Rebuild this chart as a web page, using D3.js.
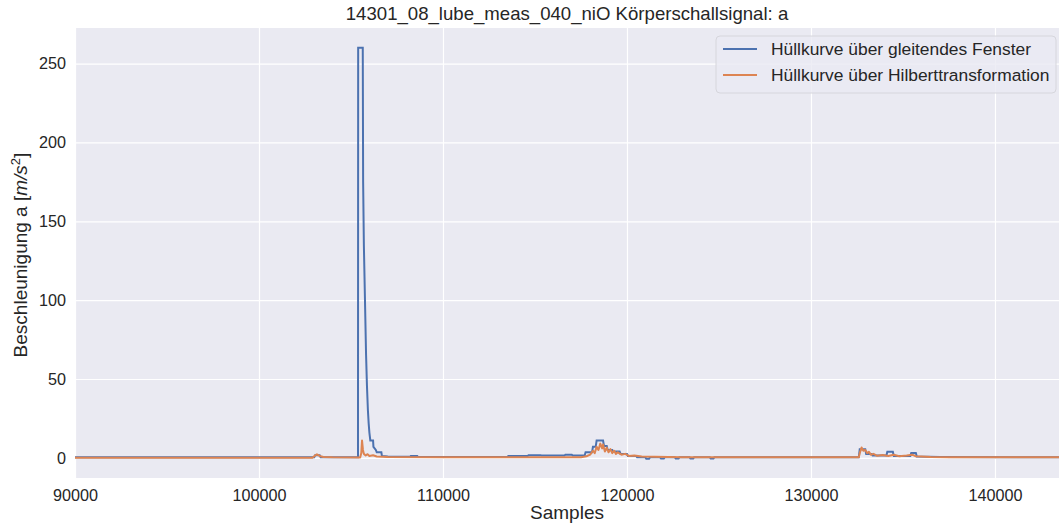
<!DOCTYPE html>
<html>
<head>
<meta charset="utf-8">
<script src="https://cdn.jsdelivr.net/npm/d3@7"></script>
<style>
  html, body { margin: 0; padding: 0; background: #ffffff; }
  svg { display: block; font-family: "Liberation Sans", Arial, sans-serif; }
</style>
</head>
<body>
<svg id="chart" width="1059" height="524"></svg>
<script>
// Envelope of the structure-borne sound signal, moving-window method
const windowSamples = [90000, 103000, 103050, 103300, 103350, 105380, 105390, 105640, 105660, 105700,
  105760, 105820, 105870, 105920, 105960, 106000, 106050, 106200, 106220, 106350,
  106400, 106650, 106680, 107000, 108200, 108250, 108600, 108650, 113500, 113550,
  114600, 114650, 115300, 115350, 116600, 116650, 117000, 117050, 117700, 117750,
  118100, 118150, 118300, 118350, 118700, 118750, 118900, 118950, 119200, 119250,
  119600, 119650, 120000, 120050, 120500, 120550, 121000, 121050, 121200, 121250,
  121800, 121850, 122000, 122050, 122600, 122650, 122800, 122850, 123400, 123450,
  123600, 123650, 124500, 124550, 124700, 124750, 132600, 132650, 132950, 133000,
  133300, 133350, 134100, 134150, 134450, 134500, 135400, 135450, 135700, 135750,
  137000, 143600];
const windowValues = [0.3, 0.3, 1.6, 1.6, 0.4, 0.4, 260, 260, 175, 135,
  100, 65, 45, 30, 22, 16, 11, 11, 7, 5,
  3.5, 3.5, 1.2, 0.8, 0.6, 1.2, 1.2, 0.5, 0.5, 1.2,
  1.2, 1.7, 1.7, 1.4, 1.4, 2.0, 2.0, 1.5, 1.5, 3.5,
  3.5, 7.0, 7.0, 11, 11, 7.5, 7.5, 5.0, 5.0, 4.0,
  4.0, 2.5, 2.5, 1.2, 1.2, 0.3, 0.3, -0.6, -0.6, 0.3,
  0.3, -0.5, -0.5, 0.3, 0.3, -0.5, -0.5, 0.3, 0.3, -0.4,
  -0.4, 0.3, 0.3, -0.4, -0.4, 0.3, 0.3, 5.5, 5.5, 2.5,
  2.5, 1.5, 1.5, 3.8, 3.8, 1.2, 1.2, 3.0, 3.0, 0.8,
  0.5, 0.3];

// Envelope from the Hilbert transform
const hilbertSamples = [90000, 102900, 103050, 103150, 103300, 103500, 104000, 105500, 105560, 105600,
  105650, 105700, 105800, 105900, 106000, 106200, 106400, 107000, 110000, 113500,
  117500, 117800, 118000, 118150, 118250, 118350, 118450, 118550, 118650, 118700,
  118800, 118900, 119000, 119100, 119200, 119300, 119400, 119500, 119700, 119900,
  120100, 120400, 120800, 121500, 123000, 125000, 132600, 132650, 132750, 132850,
  132950, 133050, 133150, 133250, 133400, 133600, 133900, 134200, 134500, 134800,
  135200, 135500, 135700, 136000, 136500, 137500, 143600];
const hilbertValues = [0, 0, 1.5, 2.2, 1.2, 0.5, 0.3, 0.2, 3.0, 11,
  5.0, 2.5, 1.5, 2.3, 1.2, 1.6, 0.8, 0.5, 0.3, 0.3,
  0.4, 1.0, 2.0, 4.5, 3.0, 7.0, 5.0, 9.0, 6.0, 8.5,
  4.0, 6.5, 3.5, 5.5, 3.0, 4.5, 2.5, 3.5, 2.0, 2.5,
  1.2, 1.5, 0.8, 0.6, 0.4, 0.3, 0.3, 3.0, 6.5, 4.5,
  5.0, 3.0, 3.8, 2.0, 2.5, 1.3, 1.8, 1.2, 2.0, 1.0,
  1.4, 2.0, 1.0, 0.8, 0.5, 0.4, 0.3];

const xTicks = [90000, 100000, 110000, 120000, 130000, 140000];
const yTicks = [0, 50, 100, 150, 200, 250];
const seriesNames = ["Hüllkurve über gleitendes Fenster", "Hüllkurve über Hilberttransformation"];
const seriesColors = ["#4c72b0", "#dd8452"];

const svg = d3.select("#chart");
const plot = { left: 75, right: 1059, top: 28, bottom: 478 };

const x = d3.scaleLinear().domain([90000, 143480]).range([plot.left, plot.right]);
const y = d3.scaleLinear().domain([-12.8, 272.6]).range([plot.bottom, plot.top]);

// Axes background
svg.append("rect")
  .attr("x", plot.left).attr("y", plot.top)
  .attr("width", plot.right - plot.left).attr("height", plot.bottom - plot.top)
  .attr("fill", "#eaeaf2");

svg.append("defs").append("clipPath").attr("id", "plotClip")
  .append("rect")
  .attr("x", plot.left).attr("y", plot.top)
  .attr("width", plot.right - plot.left).attr("height", plot.bottom - plot.top);

// Grid lines
const xAxis = d3.axisBottom(x).tickValues(xTicks).tickFormat(d3.format("d"))
  .tickSize(-(plot.bottom - plot.top)).tickPadding(11);
const yAxis = d3.axisLeft(y).tickValues(yTicks).tickFormat(d3.format("d"))
  .tickSize(-(plot.right - plot.left)).tickPadding(9);

const gx = svg.append("g").attr("transform", `translate(0,${plot.bottom})`).call(xAxis);
const gy = svg.append("g").attr("transform", `translate(${plot.left},0)`).call(yAxis);
[gx, gy].forEach(g => {
  g.select(".domain").remove();
  g.selectAll(".tick line").attr("stroke", "#ffffff").attr("stroke-width", 1.2);
  g.selectAll(".tick text").attr("fill", "#262626").style("font-size", "16.2px")
    .style("font-family", "'Liberation Sans', Arial, sans-serif");
});

// Series lines
const lineGen = d3.line().x(d => x(d[0])).y(d => y(d[1]));
const windowData = d3.zip(windowSamples, windowValues);
const hilbertData = d3.zip(hilbertSamples, hilbertValues);

const lines = svg.append("g").attr("clip-path", "url(#plotClip)");
lines.append("path").datum(windowData)
  .attr("d", lineGen).attr("fill", "none")
  .attr("stroke", seriesColors[0]).attr("stroke-width", 2).attr("stroke-linejoin", "miter");
lines.append("path").datum(hilbertData)
  .attr("d", lineGen).attr("fill", "none")
  .attr("stroke", seriesColors[1]).attr("stroke-width", 2).attr("stroke-linejoin", "round");

// Title
svg.append("text")
  .attr("x", (plot.left + plot.right) / 2).attr("y", 20)
  .attr("text-anchor", "middle").attr("fill", "#262626")
  .style("font-size", "18.6px")
  .text("14301_08_lube_meas_040_niO Körperschallsignal: a");

// Axis labels
svg.append("text")
  .attr("x", (plot.left + plot.right) / 2).attr("y", 519)
  .attr("text-anchor", "middle").attr("fill", "#262626")
  .style("font-size", "19px")
  .text("Samples");

const yLabel = svg.append("text")
  .attr("transform", `translate(27,${(plot.top + plot.bottom) / 2 + 2}) rotate(-90)`)
  .attr("text-anchor", "middle").attr("fill", "#262626")
  .style("font-size", "19px");
yLabel.append("tspan").text("Beschleunigung a [");
yLabel.append("tspan").style("font-style", "italic").text("m/s");
yLabel.append("tspan").attr("dy", -7).style("font-size", "13px").text("2");
yLabel.append("tspan").attr("dy", 7).text("]");

// Legend
const legend = svg.append("g").attr("transform", "translate(716,36)");
legend.append("rect")
  .attr("x", 0).attr("y", 0).attr("width", 340).attr("height", 57)
  .attr("rx", 4).attr("ry", 4)
  .attr("fill", "#eaeaf2").attr("fill-opacity", 0.8)
  .attr("stroke", "#d6d6dc").attr("stroke-width", 1);
seriesNames.forEach((name, i) => {
  const yy = 13 + i * 26;
  legend.append("line")
    .attr("x1", 7).attr("x2", 41).attr("y1", yy).attr("y2", yy)
    .attr("stroke", seriesColors[i]).attr("stroke-width", 2);
  legend.append("text")
    .attr("x", 55).attr("y", yy + 6)
    .attr("fill", "#262626").style("font-size", "17.4px")
    .text(name);
});
</script>
</body>
</html>
